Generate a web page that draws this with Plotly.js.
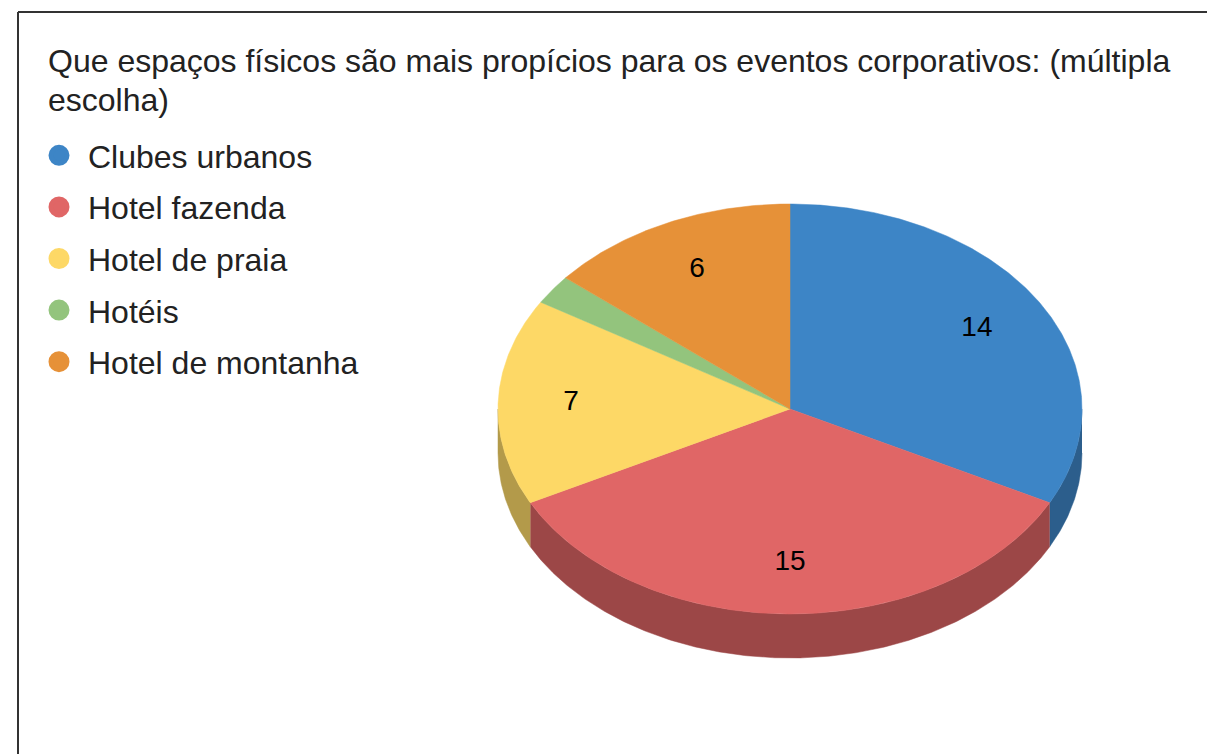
<!DOCTYPE html>
<html>
<head>
<meta charset="utf-8">
<script src="https://cdn.plot.ly/plotly-3.0.1.min.js"></script>
<style>html,body{margin:0;padding:0;background:#fff;}#chart{width:1207px;height:754px;}</style>
</head>
<body>
<div id="chart"></div>
<script>
const titleLine1 = 'Que espaços físicos são mais propícios para os eventos corporativos: (múltipla';
const titleLine2 = 'escolha)';
const categories = ['Clubes urbanos', 'Hotel fazenda', 'Hotel de praia', 'Hotéis', 'Hotel de montanha'];
const values = [14, 15, 7, 1, 6];
const topColors = ['#3d85c6', '#e06666', '#fdd866', '#93c47d', '#e69138'];
const sideColors = ['#2c5e8c', '#9c4747', '#b39a4a', '#678957', '#a16627'];

// geometry of the tilted pie (figure pixel units on hidden axes)
const CX = 790, CY = 409, RX = 292, RY = 205, DEPTH = 44, LABEL_R = 0.75;
const FONT = 'Liberation Sans, Arial, sans-serif';
const W = 1207, H = 754;

function pt(theta, r, dy) {
  return [CX + RX * r * Math.sin(theta), CY - RY * r * Math.cos(theta) + dy];
}
function arc(a, b, dy) {
  const n = Math.max(2, Math.ceil(Math.abs(b - a) / (Math.PI / 360)));
  const xs = [], ys = [];
  for (let i = 0; i <= n; i++) {
    const t = a + (b - a) * i / n;
    const p = pt(t, 1, dy);
    xs.push(p[0]); ys.push(p[1]);
  }
  return [xs, ys];
}

const total = values.reduce((s, v) => s + v, 0);
const traces = [];
const sideTraces = [], topTraces = [];
const lx = [], ly = [], lt = [];
let acc = 0;
values.forEach((v, i) => {
  const a = acc / total * 2 * Math.PI;
  acc += v;
  const b = acc / total * 2 * Math.PI;
  // side wall (front half only)
  const s = Math.max(a, Math.PI / 2), e = Math.min(b, 3 * Math.PI / 2);
  if (e > s) {
    const top = arc(s, e, 0), bot = arc(e, s, DEPTH);
    sideTraces.push({
      type: 'scatter', mode: 'lines', x: top[0].concat(bot[0]), y: top[1].concat(bot[1]),
      fill: 'toself', fillcolor: sideColors[i], line: {color: sideColors[i], width: 0.5},
      hoverinfo: 'skip', showlegend: false
    });
  }
  // top face
  const ar = arc(a, b, 0);
  topTraces.push({
    type: 'scatter', mode: 'lines', x: [CX].concat(ar[0], [CX]), y: [CY].concat(ar[1], [CY]),
    fill: 'toself', fillcolor: topColors[i], line: {color: topColors[i], width: 0.5},
    hoverinfo: 'skip', showlegend: false
  });
  if (v / total > 0.05) {
    const p = pt((a + b) / 2, LABEL_R, 0);
    lx.push(p[0]); ly.push(p[1]); lt.push(String(v));
  }
});
traces.push(...sideTraces, ...topTraces);
traces.push({
  type: 'scatter', mode: 'text', x: lx, y: ly, text: lt,
  textfont: {family: FONT, size: 28, color: '#000'}, hoverinfo: 'skip', showlegend: false
});
categories.forEach((c, i) => {
  traces.push({
    type: 'scatter', mode: 'markers', x: [null], y: [null], name: c, legendgroup: 'g' + i,
    marker: {symbol: 'circle', size: 16, color: topColors[i], line: {color: topColors[i], width: 6}},
    showlegend: true
  });
});

const layout = {
  width: W, height: H,
  margin: {l: 0, r: 0, t: 0, b: 0},
  paper_bgcolor: '#fff', plot_bgcolor: '#fff',
  xaxis: {range: [0, W], visible: false, fixedrange: true},
  yaxis: {range: [H, 0], visible: false, fixedrange: true},
  title: {
    text: titleLine1, x: 48 / W, xanchor: 'left', xref: 'paper',
    y: 1 - 61 / H, yanchor: 'middle', yref: 'paper',
    font: {family: FONT, size: 32, color: '#222'}
  },
  annotations: [{
    text: titleLine2, xref: 'paper', yref: 'paper', x: 46 / W, xanchor: 'left',
    y: 1 - 100 / H, yanchor: 'middle', showarrow: false,
    font: {family: FONT, size: 32, color: '#222'}
  }],
  showlegend: true,
  legend: {
    x: 30 / W, xanchor: 'left', y: 1 - 128 / H, yanchor: 'top',
    font: {family: FONT, size: 32, color: '#222'},
    itemwidth: 48, tracegroupgap: 7, itemclick: false, itemdoubleclick: false,
    bgcolor: 'rgba(0,0,0,0)', borderwidth: 0
  },
  shapes: [
    {type: 'line', xref: 'paper', yref: 'paper', x0: 18 / W, x1: 1, y0: 1 - 12 / H, y1: 1 - 12 / H, line: {color: '#333', width: 2}},
    {type: 'line', xref: 'paper', yref: 'paper', x0: 18 / W, x1: 18 / W, y0: 0, y1: 1 - 12 / H, line: {color: '#333', width: 2}}
  ]
};

Plotly.newPlot('chart', traces, layout, {displayModeBar: false, staticPlot: true});
</script>
</body>
</html>
